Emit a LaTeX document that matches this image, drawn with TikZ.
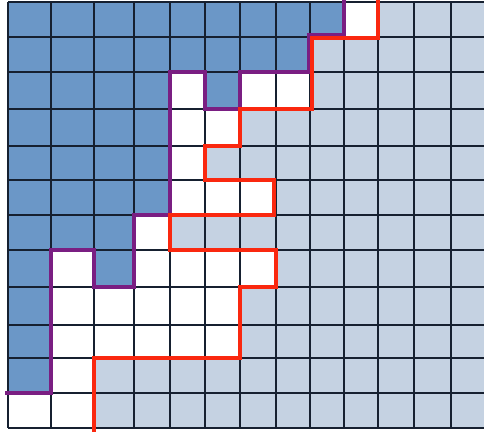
\documentclass[tikz,border=0pt]{standalone}
\usepackage{xcolor}
\usepackage{tikz}
\definecolor{darkcell}{RGB}{107,151,199}
\definecolor{lightcell}{RGB}{197,210,226}
\definecolor{pathpurple}{RGB}{122,30,130}
\definecolor{pathred}{RGB}{250,40,15}
\definecolor{gridcol}{RGB}{22,32,48}
\tikzstyle{gridline} = [gridcol, line width=1.5pt]
\tikzstyle{purpleline} = [pathpurple, line width=3.8pt, line cap=rect]
\tikzstyle{redline} = [pathred, line width=4pt, line cap=rect]

\begin{document}
\begin{tikzpicture}[x=1pt,y=-1pt]
\useasboundingbox (0,0) rectangle (484,431);
\begin{scope}
\clip (0,0) rectangle (484,431);
% light cells everywhere first
\fill[lightcell] (8,2) rectangle (490,428);
% dark region, left of the purple path
\fill[darkcell] (8,2) -- (344,2) -- (344,37) -- (310,37) -- (310,72) -- (240,72)
  -- (240,109) -- (205,109) -- (205,72) -- (170,72) -- (170,215) -- (134,215)
  -- (134,287) -- (94,287) -- (94,250) -- (51,250) -- (51,393) -- (8,393) -- cycle;
% white region, between purple and red
\fill[white] (344,2) -- (344,37) -- (310,37) -- (310,72) -- (240,72)
  -- (240,109) -- (205,109) -- (205,72) -- (170,72) -- (170,215) -- (134,215)
  -- (134,287) -- (94,287) -- (94,250) -- (51,250) -- (51,393) -- (8,393)
  -- (8,428) -- (94,428) -- (94,358) -- (240,358) -- (240,287) -- (276,287)
  -- (276,250) -- (170,250) -- (170,215) -- (276,215) -- (276,180) -- (205,180)
  -- (205,146) -- (240,146) -- (240,109) -- (310,109) -- (310,37) -- (378,37)
  -- (378,2) -- cycle;
% grid
\foreach \x in {8,51,94,134,170,205,240,276,310,344,378,414,451}
  \draw[gridline] (\x,2) -- (\x,428);
\foreach \y in {2,37,72,109,146,180,215,250,287,325,358,393,428}
  \draw[gridline] (8,\y) -- (490,\y);
% the two staircase paths
\draw[purpleline] (344,0) -- (344,34.5) -- (308.5,34.5) -- (308.5,72) -- (240,72)
  -- (240,109) -- (205,109) -- (205,72) -- (170,72) -- (170,215) -- (134,215)
  -- (134,287) -- (94,287) -- (94,250) -- (51,250) -- (51,393) -- (7,393);
\draw[redline] (378,0) -- (378,38) -- (311.5,38) -- (311.5,109) -- (240,109)
  -- (240,146) -- (205,146) -- (205,180) -- (274,180) -- (274,215) -- (170,215)
  -- (170,250) -- (276,250) -- (276,287) -- (240,287) -- (240,358) -- (94,358)
  -- (94,433);
\end{scope}
\end{tikzpicture}
\end{document}
